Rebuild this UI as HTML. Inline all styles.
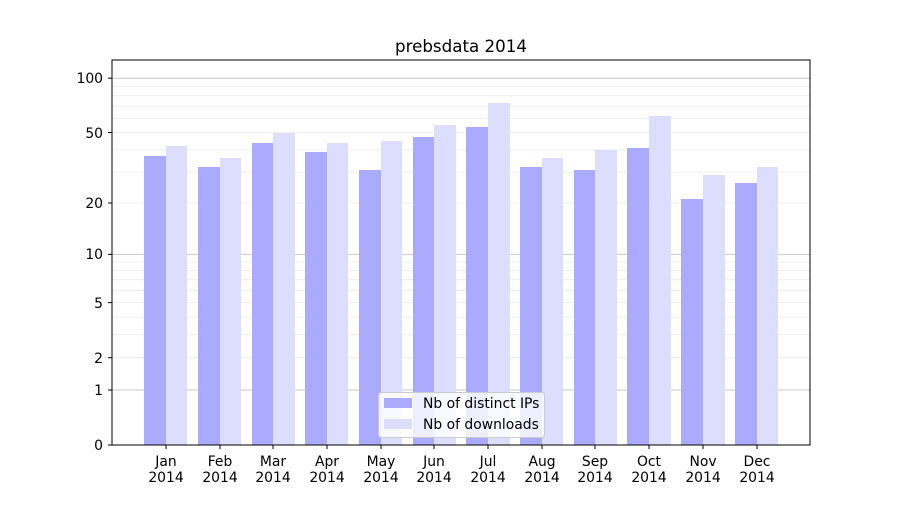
<!DOCTYPE html>
<html><head><meta charset="utf-8"><style>body{margin:0;background:#fff}</style></head><body>
<svg width="900" height="500" xmlns="http://www.w3.org/2000/svg" font-family="DejaVu Sans, Liberation Sans, sans-serif">
<rect width="900" height="500" fill="#fff"/>
<g stroke="#ebebeb" stroke-width="0.8">
<line x1="112" x2="810" y1="357.7" y2="357.7"/><line x1="112" x2="810" y1="334.8" y2="334.8"/><line x1="112" x2="810" y1="317.1" y2="317.1"/><line x1="112" x2="810" y1="302.6" y2="302.6"/><line x1="112" x2="810" y1="290.3" y2="290.3"/><line x1="112" x2="810" y1="279.7" y2="279.7"/><line x1="112" x2="810" y1="270.4" y2="270.4"/><line x1="112" x2="810" y1="262" y2="262"/>
<line x1="112" x2="810" y1="203" y2="203"/><line x1="112" x2="810" y1="172.1" y2="172.1"/><line x1="112" x2="810" y1="149.9" y2="149.9"/><line x1="112" x2="810" y1="132.5" y2="132.5"/><line x1="112" x2="810" y1="118.3" y2="118.3"/><line x1="112" x2="810" y1="106.2" y2="106.2"/><line x1="112" x2="810" y1="95.7" y2="95.7"/><line x1="112" x2="810" y1="86.5" y2="86.5"/>
</g>
<g stroke="#c8c8c8" stroke-width="1">
<line x1="112" x2="810" y1="390" y2="390"/><line x1="112" x2="810" y1="254.4" y2="254.4"/><line x1="112" x2="810" y1="78.2" y2="78.2"/>
</g>
<g fill="#aaaaff">
<rect x="144" y="156" width="22" height="289"/>
<rect x="198" y="167" width="22" height="278"/>
<rect x="252" y="143" width="21" height="302"/>
<rect x="305" y="152" width="22" height="293"/>
<rect x="359" y="170" width="22" height="275"/>
<rect x="413" y="137" width="21" height="308"/>
<rect x="466" y="127" width="22" height="318"/>
<rect x="520" y="167" width="22" height="278"/>
<rect x="574" y="170" width="21" height="275"/>
<rect x="627" y="148" width="22" height="297"/>
<rect x="681" y="199" width="22" height="246"/>
<rect x="735" y="183" width="22" height="262"/>
</g>
<g fill="#ddddff">
<rect x="166" y="146" width="21" height="299"/>
<rect x="220" y="158" width="21" height="287"/>
<rect x="273" y="133" width="22" height="312"/>
<rect x="327" y="143" width="21" height="302"/>
<rect x="381" y="141" width="21" height="304"/>
<rect x="434" y="125" width="22" height="320"/>
<rect x="488" y="103" width="22" height="342"/>
<rect x="542" y="158" width="21" height="287"/>
<rect x="595" y="150" width="22" height="295"/>
<rect x="649" y="116" width="22" height="329"/>
<rect x="703" y="175" width="22" height="270"/>
<rect x="757" y="167" width="21" height="278"/>
</g>
<rect x="112" y="60" width="698" height="385" fill="none" stroke="#000" stroke-width="1"/>
<g stroke="#000">
<line x1="108" x2="112" y1="445" y2="445"/><line x1="108" x2="112" y1="390" y2="390"/><line x1="108" x2="112" y1="357.7" y2="357.7"/><line x1="108" x2="112" y1="302.6" y2="302.6"/><line x1="108" x2="112" y1="254.4" y2="254.4"/><line x1="108" x2="112" y1="203" y2="203"/><line x1="108" x2="112" y1="132.5" y2="132.5"/><line x1="108" x2="112" y1="78.2" y2="78.2"/>
</g>
<g font-size="13.9" text-anchor="end">
<text x="103" y="450">0</text><text x="103" y="395">1</text><text x="103" y="363">2</text><text x="103" y="308">5</text><text x="103" y="259">10</text><text x="103" y="208">20</text><text x="103" y="138">50</text><text x="103" y="83">100</text>
</g>
<g font-size="13.9" text-anchor="middle">
<text x="166" y="466">Jan</text><text x="166" y="482">2014</text>
<text x="220" y="466">Feb</text><text x="220" y="482">2014</text>
<text x="273" y="466">Mar</text><text x="273" y="482">2014</text>
<text x="327" y="466">Apr</text><text x="327" y="482">2014</text>
<text x="381" y="466">May</text><text x="381" y="482">2014</text>
<text x="434" y="466">Jun</text><text x="434" y="482">2014</text>
<text x="488" y="466">Jul</text><text x="488" y="482">2014</text>
<text x="542" y="466">Aug</text><text x="542" y="482">2014</text>
<text x="595" y="466">Sep</text><text x="595" y="482">2014</text>
<text x="649" y="466">Oct</text><text x="649" y="482">2014</text>
<text x="703" y="466">Nov</text><text x="703" y="482">2014</text>
<text x="757" y="466">Dec</text><text x="757" y="482">2014</text>
</g>
<g stroke="#000"><line x1="166" x2="166" y1="445" y2="449"/><line x1="220" x2="220" y1="445" y2="449"/><line x1="273" x2="273" y1="445" y2="449"/><line x1="327" x2="327" y1="445" y2="449"/><line x1="381" x2="381" y1="445" y2="449"/><line x1="434" x2="434" y1="445" y2="449"/><line x1="488" x2="488" y1="445" y2="449"/><line x1="542" x2="542" y1="445" y2="449"/><line x1="595" x2="595" y1="445" y2="449"/><line x1="649" x2="649" y1="445" y2="449"/><line x1="703" x2="703" y1="445" y2="449"/><line x1="757" x2="757" y1="445" y2="449"/></g>
<text x="461" y="52" font-size="16.7" text-anchor="middle">prebsdata 2014</text>
<rect x="378.5" y="392.5" width="166" height="45" rx="3" fill="#fff" fill-opacity="0.8" stroke="#ccc"/>
<rect x="384" y="398" width="28" height="10" fill="#aaaaff"/>
<rect x="384" y="419" width="28" height="10" fill="#ddddff"/>
<text x="423" y="408" font-size="13.9">Nb of distinct IPs</text>
<text x="423" y="429" font-size="13.9">Nb of downloads</text>
</svg>
</body></html>
